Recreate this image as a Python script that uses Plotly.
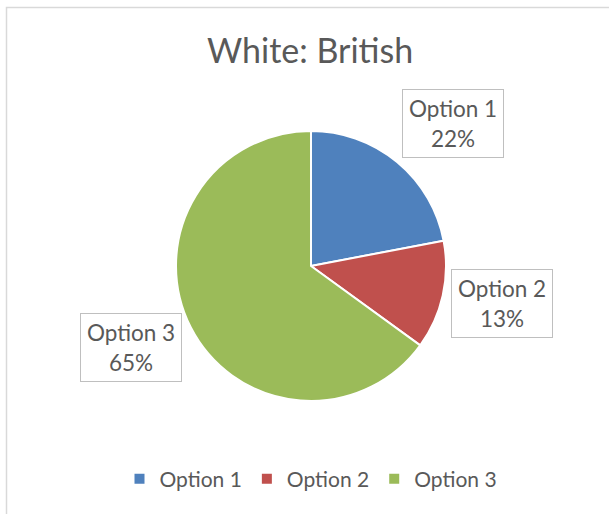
import plotly.graph_objects as go

labels = ["Option 1", "Option 2", "Option 3"]
values = [22, 13, 65]
colors = ["#4F81BD", "#C0504D", "#9BBB59"]
title_text = "White: British"

W, H = 609, 514
FONT = "Lato, Calibri, Carlito, sans-serif"
TXT = "#595959"

def px(x):
    return x / W

def py(y):
    return 1 - y / H

cx, cy, r = 311, 266, 135

fig = go.Figure(go.Pie(
    labels=labels, values=values, sort=False, direction="clockwise",
    rotation=0, marker=dict(colors=colors, line=dict(color="white", width=2)),
    textinfo="none", hoverinfo="label+percent",
    domain=dict(x=[px(cx - r), px(cx + r)], y=[py(cy + r), py(cy - r)]),
))

# data-label boxes (layout positions in pixels)
label_pos = [(453, 123), (502, 303), (131, 347)]
total = sum(values)
for lab, v, (lx, ly) in zip(labels, values, label_pos):
    fig.add_annotation(
        x=px(lx), y=py(ly), xref="paper", yref="paper",
        xanchor="center", yanchor="middle",
        text=f"{lab}<br>{round(100 * v / total)}%", showarrow=False,
        font=dict(family=FONT, size=22.5, color=TXT),
        bordercolor="#BFBFBF", borderwidth=1, borderpad=3,
        width=94, height=61, align="center", valign="middle",
        bgcolor="white",
    )

fig.add_annotation(
    x=px(310), y=py(50), xref="paper", yref="paper", text=title_text,
    showarrow=False, font=dict(family=FONT, size=34, color=TXT),
    xanchor="center", yanchor="middle",
)

fig.add_shape(type="rect", xref="paper", yref="paper",
              x0=px(6.5), x1=1.2, y0=-0.2, y1=py(7.5),
              line=dict(color="#D9D9D9", width=1.5), layer="below")

fig.update_layout(
    width=W, height=H, margin=dict(l=0, r=0, t=0, b=0),
    paper_bgcolor="white", plot_bgcolor="white",
    showlegend=True,
    legend=dict(orientation="h", x=px(311), xanchor="center",
                y=py(479), yanchor="middle",
                font=dict(family=FONT, size=21, color=TXT),
                itemwidth=30, traceorder="normal"),
)

fig.write_html("out.html")
